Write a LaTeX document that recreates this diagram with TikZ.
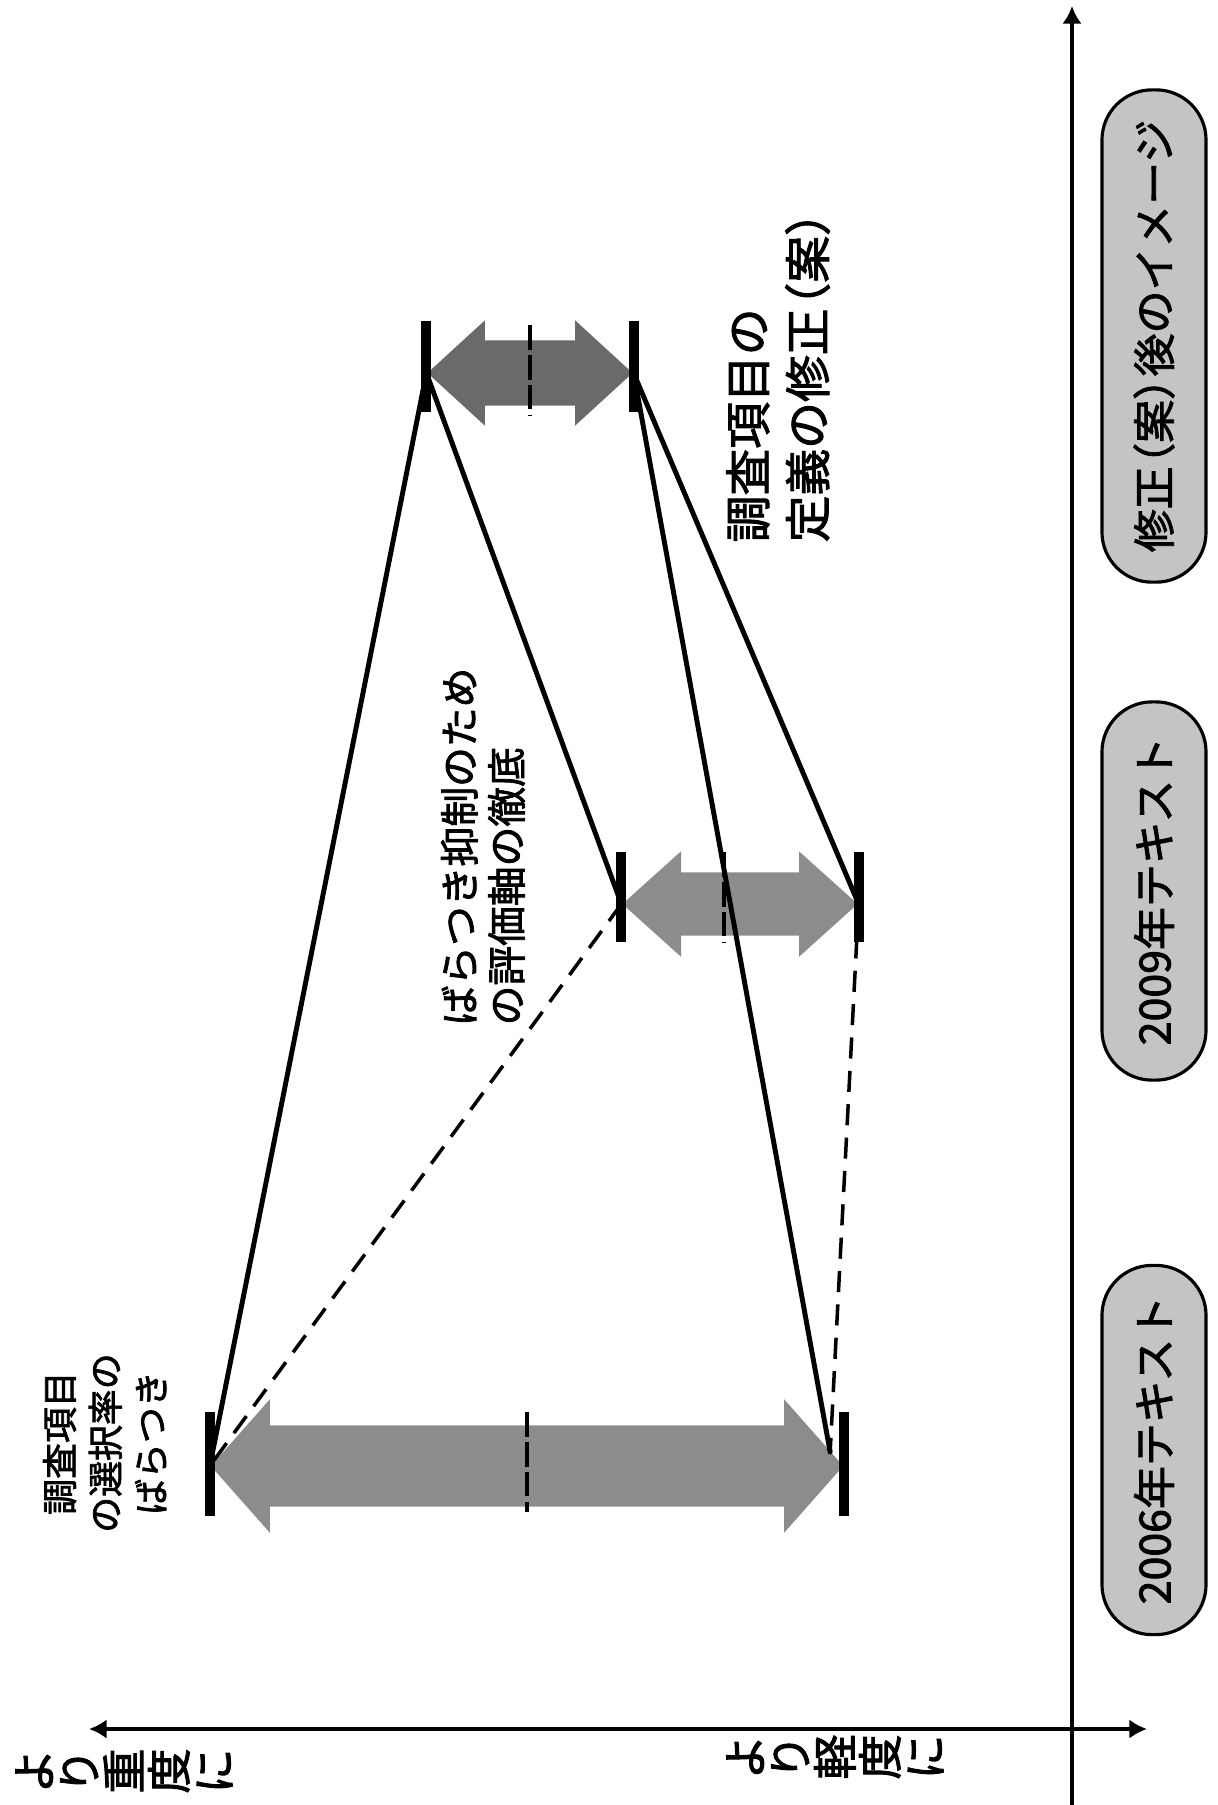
\documentclass[tikz,border=0pt]{standalone}
\usepackage{fontspec}
\setmainfont{Noto Sans CJK JP}[FakeBold=2]
\usetikzlibrary{calc,arrows.meta,shapes.arrows}
\definecolor{ink}{HTML}{000000}
\definecolor{pill}{HTML}{C4C4C4}
\definecolor{spread}{HTML}{8C8C8C}
\definecolor{spreaddark}{HTML}{6A6A6A}
\tikzset{
  axisline/.style={draw=ink, line width=1.3pt},
  pillbox/.style={rotate=90, draw=ink, line width=0.9pt, fill=pill, rounded corners=0.5cm,
    minimum height=1.04cm, inner sep=0pt, font=\fontsize{12.2pt}{12.2pt}\selectfont},
  spanarrow/.style={double arrow, fill=spread, draw=none, inner xsep=0pt, minimum width=0pt},
  tickbar/.style={draw=ink, line width=2.8pt},
  meanline/.style={draw=ink, line width=1.4pt, dash pattern=on 7pt off 1.5pt},
  link/.style={draw=ink, line width=1.4pt, line cap=round},
  linkdash/.style={draw=ink, line width=1pt, dash pattern=on 6pt off 3.5pt},
  lab/.style={rotate=90, inner sep=0pt},
}
\newcommand\pl{\kern-.45em（}
\newcommand\pr{）\kern-.45em}
\begin{document}
\begin{tikzpicture}[x=0.01cm, y=-0.01cm]
  \path[fill=white, use as bounding box] (0,0) rectangle (1218,1805);

  % axes
  \coordinate (vbot) at (1072,1805);
  \coordinate (vtop) at (1072,6);
  \coordinate (hleft) at (89,1729);
  \coordinate (hright) at (1147,1729);
  \draw[axisline, -{Latex[length=5pt,width=5.5pt]}] (vbot) -- (vtop);
  \draw[axisline, {Latex[length=5pt,width=5.5pt]}-{Latex[length=5pt,width=5.5pt]}] (hleft) -- (hright);

  \node[lab, align=center, font=\fontsize{12.8pt}{12.8pt}\selectfont] (lsevere) at (124,1771) {よ\\り\\重\\度\\に};
  \node[lab, align=center, font=\fontsize{12.8pt}{12.8pt}\selectfont] (lmild) at (835,1757) {よ\\り\\軽\\度\\に};

  % time labels
  \node[pillbox, minimum width=4.92cm] (pmod) at (1154,336) {修正\pl 案\pr 後のイメージ};
  \node[pillbox, minimum width=3.78cm] (p09) at (1154,891) {2009年テキスト};
  \node[pillbox, minimum width=3.69cm] (p06) at (1154,1450) {2006年テキスト};

  % spreads
  \node[spanarrow, minimum height=6.32cm, inner ysep=0.40cm,
    double arrow head extend=0.26cm, double arrow tip angle=97] (a06) at (527,1466) {};
  \node[spanarrow, minimum height=2.35cm, inner ysep=0.31cm,
    double arrow head extend=0.21cm, double arrow tip angle=84] (a09) at (740,904) {};
  \node[spanarrow, fill=spreaddark, minimum height=2.05cm, inner ysep=0.32cm,
    double arrow head extend=0.20cm, double arrow tip angle=85] (amod) at (530,373) {};
  \coordinate (a06r) at ($(a06.east)+(-14,-14)$);

  \draw[link] (amod.west) -- (a06.west);
  \draw[link] (amod.west) -- (a09.west);
  \draw[link] (amod.east) -- (a09.east);
  \draw[link] (amod.east) -- (a06r);
  \draw[linkdash] (a09.west) -- (a06.west);
  \draw[linkdash] (a09.east) -- (a06r);

  \foreach \a/\up/\dn in {a06/54/50, a09/52/38, amod/52/39} {
    \draw[tickbar] ($(\a.west)+(0,-\up)$) -- ($(\a.west)+(0,\dn)$);
    \draw[tickbar] ($(\a.east)+(0,-\up)$) -- ($(\a.east)+(0,\dn)$);
  }
  \draw[meanline] ($(a06.center)+(0,-54)$) -- ($(a06.center)+(0,46)$);
  \draw[meanline] ($(a09.center)+(-16,-52)$) -- ($(a09.center)+(-16,38)$);
  \draw[meanline] ($(amod.center)+(0,-48)$) -- ($(amod.center)+(0,42)$);

  % notes
  \node[lab, align=center, font=\fontsize{10.2pt}{13pt}\selectfont] (lvar) at (105,1443) {調査項目\\の選択率の\\ばらつき};
  \node[lab, anchor=west, align=left, font=\fontsize{11.3pt}{13.4pt}\selectfont] (laxis) at (483,1026) {ばらつき抑制のため\\の評価軸の徹底};
  \node[lab, anchor=west, align=left, font=\fontsize{13.3pt}{17pt}\selectfont] (ldef) at (778,543) {調査項目の\\定義の修正\pl 案\pr};
\end{tikzpicture}
\end{document}
